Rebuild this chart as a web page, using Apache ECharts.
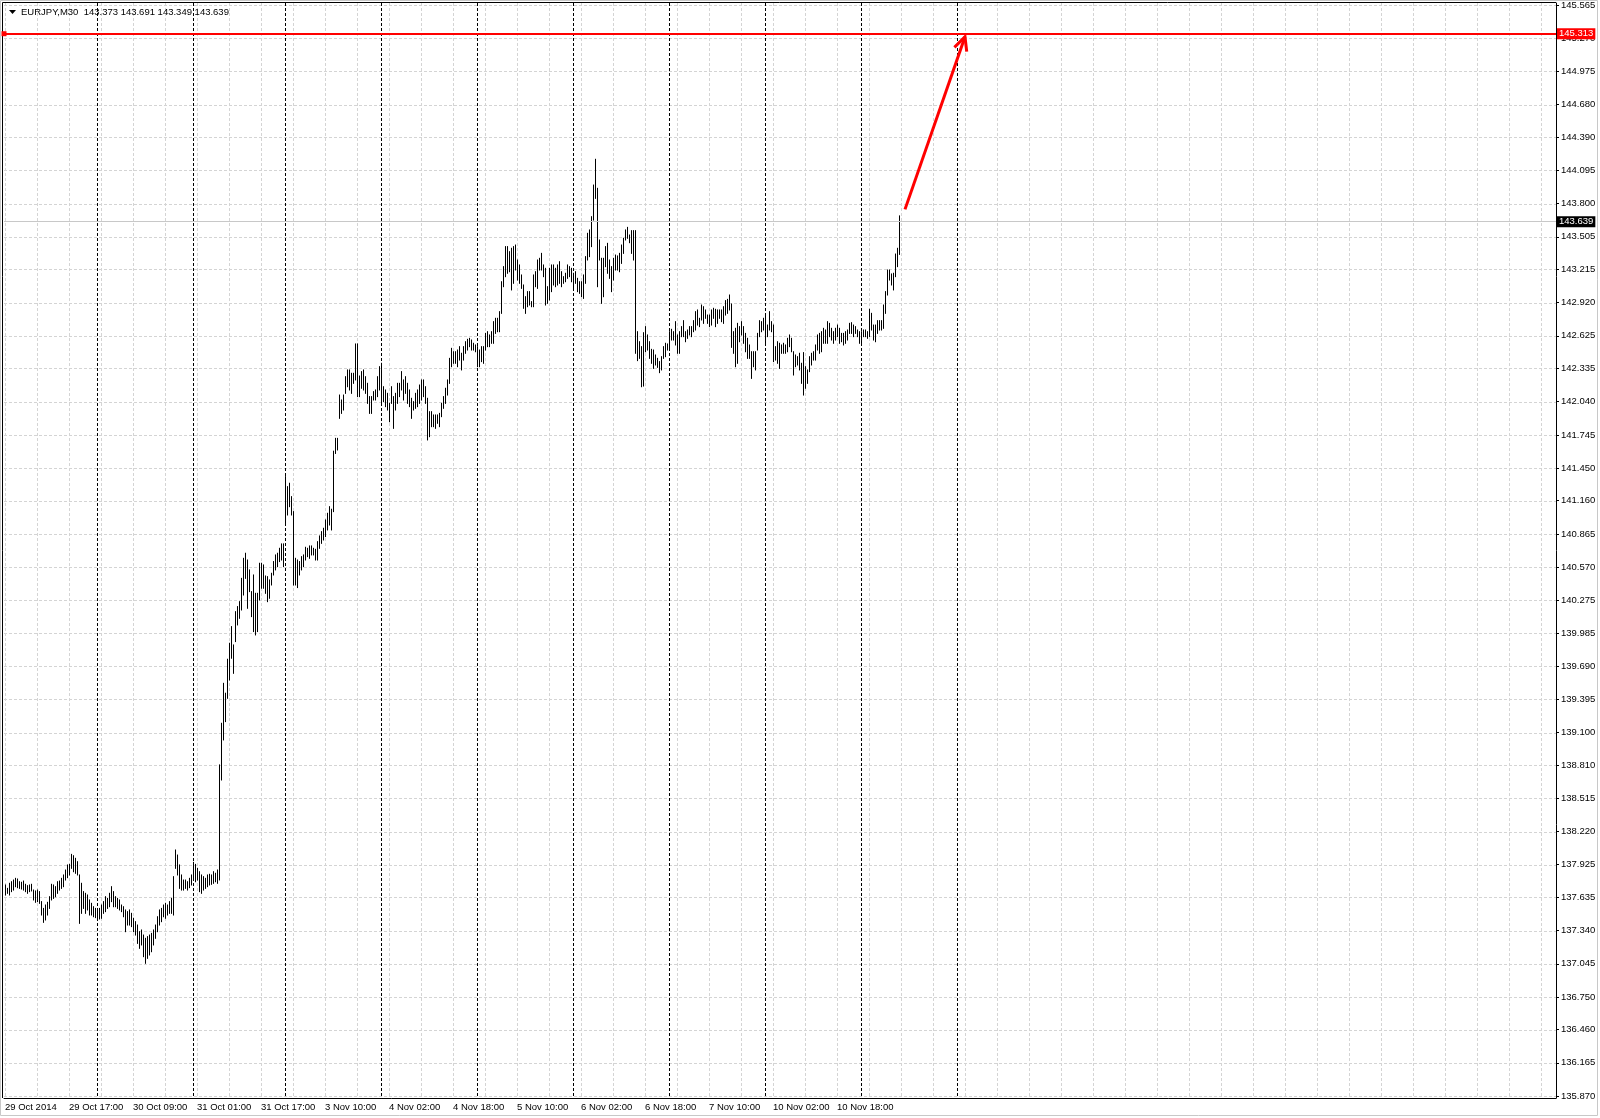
<!DOCTYPE html>
<html>
<head>
<meta charset="utf-8">
<title>EURJPY,M30</title>
<script src="https://cdn.jsdelivr.net/npm/echarts@6/dist/echarts.min.js"></script>
<style>
html, body { margin: 0; padding: 0; background: #fff; }
#box { width: 1600px; height: 1118px; }
</style>
</head>
<body>
<div id="box"></div>
<script>
var symbolName = 'EURJPY,M30';
var lastBar = [143.373, 143.691, 143.349, 143.639]; // open high low close

// bar highs / lows, one per M30 bar starting 29 Oct 2014
var highs = [
    137.745, 137.715, 137.760, 137.774, 137.789, 137.804, 137.798, 137.774, 137.769, 137.780,
    137.751, 137.739, 137.745, 137.751, 137.700, 137.692, 137.700, 137.686, 137.597, 137.537,
    137.567, 137.591, 137.641, 137.751, 137.745, 137.730, 137.774, 137.780, 137.804, 137.834,
    137.878, 137.923, 137.928, 138.017, 138.005, 137.982, 137.952, 137.834, 137.760, 137.686,
    137.671, 137.656, 137.612, 137.582, 137.552, 137.537, 137.523, 137.537, 137.567, 137.597,
    137.641, 137.626, 137.671, 137.730, 137.686, 137.641, 137.626, 137.612, 137.567, 137.552,
    137.523, 137.508, 137.523, 137.493, 137.449, 137.419, 137.389, 137.330, 137.345, 137.300,
    137.271, 137.286, 137.300, 137.315, 137.345, 137.389, 137.463, 137.523, 137.537, 137.567,
    137.582, 137.567, 137.597, 137.626, 137.819, 138.056, 138.011, 137.923, 137.834, 137.789,
    137.789, 137.774, 137.804, 137.834, 137.946, 137.928, 137.893, 137.863, 137.834, 137.819,
    137.804, 137.834, 137.840, 137.834, 137.863, 137.849, 137.878, 138.812, 139.182, 139.537,
    139.449, 139.751, 139.893, 140.041, 139.878, 140.174, 140.219, 140.263, 140.470, 140.648,
    140.693, 140.633, 140.545, 140.352, 140.500, 140.337, 140.337, 140.604, 140.604, 140.589,
    140.491, 140.485, 140.456, 140.515, 140.619, 140.678, 140.693, 140.737, 140.776, 140.776,
    141.374, 141.285, 141.315, 141.196, 141.063, 140.648, 140.633, 140.619, 140.663, 140.678,
    140.746, 140.737, 140.758, 140.758, 140.737, 140.728, 140.796, 140.847, 140.885, 140.915,
    140.989, 141.048, 141.107, 141.084, 141.600, 141.714, 141.714, 142.099, 142.055, 142.099,
    142.262, 142.322, 142.322, 142.292, 142.292, 142.553, 142.553, 142.268, 142.307, 142.322,
    142.262, 142.203, 142.085, 142.085, 142.129, 142.144, 142.262, 142.351, 142.381, 142.173,
    142.144, 142.114, 142.025, 142.173, 142.085, 142.114, 142.203, 142.203, 142.307, 142.233,
    142.262, 142.203, 142.144, 142.070, 142.040, 142.114, 142.144, 142.188, 142.233, 142.233,
    142.173, 142.070, 141.951, 141.951, 141.922, 141.922, 141.922, 141.936, 142.025, 142.085,
    142.159, 142.233, 142.425, 142.514, 142.484, 142.484, 142.499, 142.529, 142.470, 142.529,
    142.573, 142.594, 142.603, 142.588, 142.559, 142.544, 142.529, 142.499, 142.529, 142.529,
    142.647, 142.662, 142.633, 142.662, 142.751, 142.781, 142.781, 142.840, 143.106, 143.240,
    143.418, 143.418, 143.373, 143.403, 143.418, 143.432, 143.299, 143.255, 143.166, 143.077,
    142.973, 143.018, 143.018, 142.929, 143.166, 143.195, 143.299, 143.314, 143.358, 143.255,
    143.225, 143.062, 143.225, 143.255, 143.255, 143.225, 143.255, 143.284, 143.195, 143.151,
    143.181, 143.255, 143.240, 143.225, 143.181, 143.195, 143.136, 143.106, 143.106, 143.166,
    143.329, 143.536, 143.566, 143.684, 143.965, 144.194, 143.936, 143.477, 143.314, 143.314,
    143.418, 143.447, 143.299, 143.240, 143.314, 143.343, 143.335, 143.358, 143.432, 143.492,
    143.566, 143.589, 143.521, 143.560, 143.560, 143.560, 142.662, 142.573, 142.529, 142.653,
    142.707, 142.633, 142.573, 142.505, 142.499, 142.455, 142.425, 142.396, 142.440, 142.529,
    142.559, 142.553, 142.662, 142.683, 142.662, 142.751, 142.633, 142.662, 142.707, 142.760,
    142.662, 142.677, 142.707, 142.707, 142.760, 142.840, 142.855, 142.781, 142.899, 142.884,
    142.855, 142.810, 142.810, 142.855, 142.870, 142.861, 142.855, 142.855, 142.855, 142.884,
    142.938, 142.949, 142.988, 142.908, 142.662, 142.692, 142.736, 142.707, 142.751, 142.707,
    142.647, 142.603, 142.544, 142.484, 142.484, 142.484, 142.647, 142.760, 142.751, 142.781,
    142.810, 142.721, 142.840, 142.751, 142.721, 142.529, 142.573, 142.559, 142.544, 142.559,
    142.544, 142.603, 142.633, 142.603, 142.484, 142.455, 142.440, 142.470, 142.381, 142.476,
    142.351, 142.322, 142.440, 142.470, 142.484, 142.544, 142.633, 142.647, 142.662, 142.692,
    142.677, 142.751, 142.736, 142.692, 142.662, 142.692, 142.721, 142.692, 142.647, 142.647,
    142.662, 142.677, 142.736, 142.742, 142.721, 142.707, 142.677, 142.662, 142.662, 142.677,
    142.677, 142.662, 142.861, 142.825, 142.721, 142.721, 142.760, 142.760, 142.760, 142.899,
    143.018, 143.210, 143.210, 143.175, 143.181, 143.352, 143.403, 143.691
];
var lows = [
    137.656, 137.671, 137.656, 137.686, 137.700, 137.730, 137.721, 137.715, 137.709, 137.700,
    137.686, 137.671, 137.686, 137.692, 137.612, 137.591, 137.597, 137.582, 137.478, 137.413,
    137.434, 137.478, 137.537, 137.612, 137.626, 137.641, 137.671, 137.700, 137.715, 137.730,
    137.789, 137.810, 137.834, 137.893, 137.863, 137.849, 137.834, 137.404, 137.493, 137.537,
    137.493, 137.523, 137.478, 137.478, 137.463, 137.455, 137.434, 137.443, 137.449, 137.493,
    137.508, 137.537, 137.552, 137.597, 137.552, 137.552, 137.537, 137.523, 137.508, 137.463,
    137.330, 137.389, 137.389, 137.375, 137.330, 137.300, 137.226, 137.182, 137.212, 137.108,
    137.049, 137.093, 137.123, 137.152, 137.212, 137.271, 137.330, 137.389, 137.419, 137.463,
    137.449, 137.478, 137.493, 137.493, 137.478, 137.893, 137.834, 137.715, 137.700, 137.700,
    137.715, 137.700, 137.721, 137.745, 137.804, 137.774, 137.789, 137.686, 137.671, 137.700,
    137.715, 137.730, 137.745, 137.751, 137.760, 137.774, 137.760, 137.790, 138.678, 139.034,
    139.197, 139.404, 139.567, 139.760, 139.626, 139.908, 140.056, 140.115, 140.189, 140.322,
    140.470, 140.204, 140.352, 140.130, 139.997, 139.967, 139.997, 140.278, 140.382, 140.382,
    140.337, 140.263, 140.293, 140.411, 140.500, 140.545, 140.574, 140.619, 140.633, 140.574,
    140.959, 141.033, 141.107, 141.033, 140.411, 140.411, 140.388, 140.500, 140.545, 140.574,
    140.633, 140.663, 140.648, 140.678, 140.678, 140.633, 140.633, 140.737, 140.781, 140.811,
    140.841, 140.900, 140.944, 140.900, 141.063, 141.580, 141.611, 141.892, 141.936, 141.966,
    142.114, 142.173, 142.144, 142.114, 142.203, 142.233, 142.085, 142.085, 142.159, 142.144,
    142.114, 142.025, 141.936, 141.936, 142.055, 142.055, 142.085, 142.144, 142.025, 142.040,
    141.996, 141.966, 141.862, 142.025, 141.803, 141.966, 142.025, 142.085, 142.144, 142.055,
    142.114, 142.025, 141.996, 141.892, 141.966, 141.981, 141.996, 142.025, 142.055, 142.085,
    142.025, 141.700, 141.729, 141.818, 141.818, 141.803, 141.848, 141.818, 141.907, 141.981,
    142.025, 142.099, 142.203, 142.351, 142.381, 142.381, 142.351, 142.410, 142.322, 142.410,
    142.470, 142.499, 142.529, 142.499, 142.499, 142.484, 142.351, 142.351, 142.396, 142.381,
    142.499, 142.529, 142.529, 142.559, 142.559, 142.647, 142.662, 142.662, 142.825, 143.062,
    143.151, 143.181, 143.195, 143.033, 143.092, 143.210, 143.121, 143.092, 143.047, 142.870,
    142.825, 142.884, 142.899, 142.884, 142.884, 143.062, 143.047, 143.210, 143.210, 143.151,
    142.899, 142.914, 142.944, 143.018, 143.077, 143.062, 143.077, 143.092, 143.062, 143.092,
    143.106, 143.136, 143.151, 143.106, 143.033, 143.092, 143.018, 143.003, 142.973, 142.958,
    143.092, 143.299, 143.329, 143.418, 143.654, 143.847, 143.062, 143.299, 142.914, 142.973,
    143.240, 143.181, 143.136, 143.018, 143.121, 143.210, 143.210, 143.195, 143.269, 143.358,
    143.477, 143.492, 143.453, 143.358, 143.299, 142.470, 142.405, 142.425, 142.173, 142.179,
    142.484, 142.499, 142.425, 142.381, 142.336, 142.366, 142.345, 142.298, 142.322, 142.425,
    142.440, 142.499, 142.514, 142.588, 142.588, 142.544, 142.470, 142.470, 142.618, 142.618,
    142.573, 142.603, 142.633, 142.618, 142.662, 142.677, 142.721, 142.707, 142.766, 142.736,
    142.781, 142.736, 142.707, 142.721, 142.781, 142.707, 142.736, 142.781, 142.751, 142.736,
    142.810, 142.825, 142.855, 142.523, 142.470, 142.351, 142.381, 142.573, 142.633, 142.559,
    142.484, 142.425, 142.425, 142.247, 142.351, 142.322, 142.499, 142.618, 142.662, 142.677,
    142.559, 142.618, 142.677, 142.662, 142.396, 142.410, 142.381, 142.336, 142.470, 142.470,
    142.470, 142.484, 142.529, 142.484, 142.277, 142.351, 142.366, 142.322, 142.203, 142.099,
    142.159, 142.203, 142.307, 142.366, 142.410, 142.410, 142.499, 142.470, 142.484, 142.559,
    142.559, 142.559, 142.618, 142.588, 142.559, 142.588, 142.618, 142.559, 142.573, 142.544,
    142.559, 142.588, 142.647, 142.647, 142.618, 142.647, 142.618, 142.559, 142.544, 142.618,
    142.618, 142.603, 142.618, 142.677, 142.588, 142.573, 142.647, 142.677, 142.677, 142.692,
    142.825, 142.988, 143.121, 143.077, 143.033, 143.151, 143.240, 143.349
];

// time labels, one every 32 bars
var xLabels = ['29 Oct 2014', '29 Oct 17:00', '30 Oct 09:00', '31 Oct 01:00', '31 Oct 17:00',
    '3 Nov 10:00', '4 Nov 02:00', '4 Nov 18:00', '5 Nov 10:00', '6 Nov 02:00', '6 Nov 18:00',
    '7 Nov 10:00', '10 Nov 02:00', '10 Nov 18:00'];
var labelStep = 32;
var gridStep = 16;
var barCount = 776; // bars that fit in the window (data + chart shift)
var daySeparators = [46, 94, 140, 188, 236, 284, 332, 380, 428, 476];

var yLabels = ['135.870', '136.165', '136.460', '136.750', '137.045', '137.340', '137.635',
    '137.925', '138.220', '138.515', '138.810', '139.100', '139.395', '139.690', '139.985',
    '140.275', '140.570', '140.865', '141.160', '141.450', '141.745', '142.040', '142.335',
    '142.625', '142.920', '143.215', '143.505', '143.800', '144.095', '144.390', '144.680',
    '144.975', '145.270', '145.565'];
var yMin = 135.852, yMax = 145.583;

var targetLevel = 145.313;
var arrowFrom = [450, 143.749];
var arrowTo = [480, 145.283];

var FONT = 'Tahoma, "Liberation Sans", Arial, sans-serif';
var yValues = yLabels.map(Number);

var cats = [];
for (var i = 0; i < barCount; i++) cats.push(String(i));

var barData = highs.map(function (h, i) { return [i, lows[i], h]; });

var vGrid = [];
for (var g = 0; g < barCount; g += gridStep) vGrid.push([g, yMin]);
var hGrid = yValues.map(function (v) { return [0, v]; });
var sepData = daySeparators.map(function (d) { return [d, yMin]; });

function crisp(v) { return Math.round(v) + 0.5; }

function vLine(color) {
    return function (params, api) {
        var p = api.coord([api.value(0), api.value(1)]);
        var cs = params.coordSys;
        var x = crisp(p[0]);
        return {
            type: 'line',
            shape: { x1: x, y1: cs.y, x2: x, y2: cs.y + cs.height },
            style: { stroke: color, lineWidth: 1, lineDash: [3, 2] }
        };
    };
}

function hLine(params, api) {
    var p = api.coord([api.value(0), api.value(1)]);
    var cs = params.coordSys;
    var y = crisp(p[1]);
    return {
        type: 'line',
        shape: { x1: cs.x, y1: y, x2: cs.x + cs.width, y2: y },
        style: { stroke: '#d4d4d4', lineWidth: 1, lineDash: [3, 2] }
    };
}

function renderBar(params, api) {
    var lo = api.coord([api.value(0), api.value(1)]);
    var hi = api.coord([api.value(0), api.value(2)]);
    var x = crisp(lo[0]);
    return {
        type: 'line',
        shape: { x1: x, y1: lo[1] + 0.5, x2: x, y2: hi[1] - 0.5 },
        style: { stroke: '#000', lineWidth: 1 }
    };
}

function renderArrow(params, api) {
    var a = api.coord([api.value(0), api.value(1)]);
    var b = api.coord([api.value(2), api.value(3)]);
    var ang = Math.atan2(b[1] - a[1], b[0] - a[0]);
    var len = 15, spread = 0.45;
    var l = [b[0] - len * Math.cos(ang - spread), b[1] - len * Math.sin(ang - spread)];
    var r = [b[0] - len * Math.cos(ang + spread), b[1] - len * Math.sin(ang + spread)];
    return {
        type: 'group',
        children: [
            { type: 'line', shape: { x1: a[0], y1: a[1], x2: b[0], y2: b[1] },
              style: { stroke: '#ff0000', lineWidth: 3 } },
            { type: 'polyline', shape: { points: [l, b, r] },
              style: { stroke: '#ff0000', lineWidth: 3, fill: null } }
        ]
    };
}

var myChart = echarts.init(document.getElementById('box'));
myChart.setOption({
    animation: false,
    backgroundColor: '#fff',
    textStyle: { fontFamily: FONT },
    grid: { left: 4, right: 44, top: 3, bottom: 20 },
    xAxis: {
        type: 'category',
        data: cats,
        boundaryGap: true,
        axisLine: { lineStyle: { color: '#000', width: 1 } },
        axisTick: {
            alignWithLabel: true,
            length: 3,
            lineStyle: { color: '#000' },
            interval: function (idx) { return idx % labelStep === 0 && idx / labelStep < xLabels.length; }
        },
        axisLabel: {
            interval: function (idx) { return idx % labelStep === 0 && idx / labelStep < xLabels.length; },
            formatter: function (v, idx) { return xLabels[idx / labelStep] || ''; },
            align: 'left',
            margin: 4,
            color: '#000',
            fontSize: 9.5,
            fontFamily: FONT
        },
        splitLine: { show: false }
    },
    yAxis: {
        type: 'value',
        position: 'right',
        min: yMin,
        max: yMax,
        axisLine: { show: true, lineStyle: { color: '#000', width: 1 } },
        axisTick: { show: true, length: 3, lineStyle: { color: '#000' }, customValues: yValues },
        axisLabel: {
            customValues: yValues,
            formatter: function (v) { return v.toFixed(3); },
            margin: 5,
            color: '#000',
            fontSize: 9.5,
            fontFamily: FONT
        },
        splitLine: { show: false }
    },
    graphic: [
        { type: 'rect', shape: { x: 0.5, y: 0.5, width: 1597, height: 1115 },
          style: { fill: null, stroke: '#c8c8c8', lineWidth: 1 }, silent: true },
        { type: 'polyline', shape: { points: [[2.5, 1098], [2.5, 2.5], [1556, 2.5]] },
          style: { fill: null, stroke: '#000', lineWidth: 1 }, silent: true },
        { type: 'polygon', shape: { points: [[9, 10], [16, 10], [12.5, 14]] },
          style: { fill: '#000' }, silent: true, z: 20 },
        { type: 'text', x: 21, y: 12, z: 20, silent: true,
          style: {
              text: symbolName + '  ' + lastBar.map(function (v) { return v.toFixed(3); }).join(' '),
              font: '9.5px ' + FONT, fill: '#000', verticalAlign: 'middle'
          } }
    ],
    series: [
        { type: 'custom', name: 'vgrid', data: vGrid, renderItem: vLine('#d4d4d4'),
          encode: { x: 0, y: 1 }, silent: true, z: 1 },
        { type: 'custom', name: 'hgrid', data: hGrid, renderItem: hLine,
          encode: { x: 0, y: 1 }, silent: true, z: 1 },
        { type: 'custom', name: 'separators', data: sepData, renderItem: vLine('#000'),
          encode: { x: 0, y: 1 }, silent: true, z: 2 },
        { type: 'custom', name: symbolName, data: barData, renderItem: renderBar,
          encode: { x: 0, y: [1, 2] }, silent: true, z: 4 },
        {
            type: 'custom', name: 'arrow',
            data: [[arrowFrom[0], arrowFrom[1], arrowTo[0], arrowTo[1]]],
            renderItem: renderArrow,
            encode: { x: [0, 2], y: [1, 3] },
            silent: true, z: 6,
            markLine: {
                silent: true,
                animation: false,
                symbol: 'none',
                data: [
                    {
                        yAxis: lastBar[3],
                        lineStyle: { color: '#c8c8c8', width: 1, type: 'solid' },
                        label: {
                            show: true, position: 'end', distance: 1,
                            formatter: lastBar[3].toFixed(3),
                            color: '#fff', backgroundColor: '#000',
                            padding: [1, 2, 0, 2], fontSize: 9.5, fontFamily: FONT
                        }
                    },
                    {
                        yAxis: targetLevel,
                        symbol: ['emptyRect', 'emptyRect'],
                        symbolSize: 5,
                        symbolOffset: [[3, 0], [-3, 0]],
                        lineStyle: { color: '#ff0000', width: 2, type: 'solid' },
                        label: {
                            show: true, position: 'end', distance: 1,
                            formatter: targetLevel.toFixed(3),
                            color: '#fff', backgroundColor: '#ff0000',
                            padding: [1, 2, 0, 2], fontSize: 9.5, fontFamily: FONT
                        }
                    }
                ]
            }
        }
    ]
});
window.addEventListener('resize', function () {
    myChart.resize();
});
</script>
</body>
</html>
